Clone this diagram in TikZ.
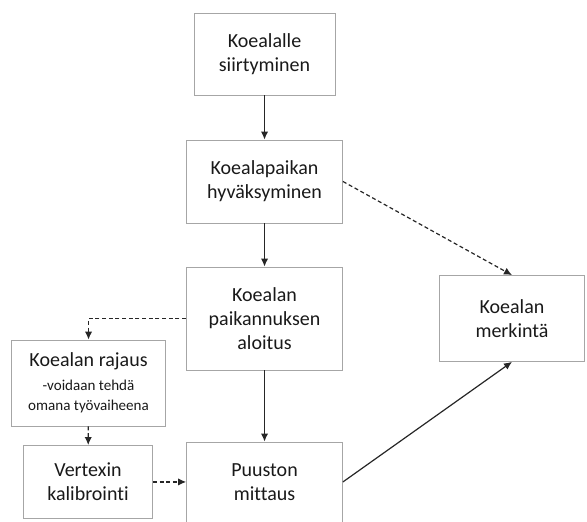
\documentclass[tikz,border=0pt]{standalone}
\usepackage{fontspec}
\setmainfont{Carlito}[Ligatures=NoCommon]
\usetikzlibrary{positioning,arrows.meta}

\newcommand{\notesize}{\fontsize{11.3}{15}\selectfont}

\tikzset{
	box/.style={draw=black!35, line width=0.6pt, align=center, inner sep=2pt,
		font=\fontsize{15}{18}\selectfont, text=black!90},
	solidarrow/.style={-{Latex[length=6pt,width=5.5pt]}, line width=0.9pt, black!85},
	dasharrow/.style={-{Latex[length=6pt,width=5.5pt]}, line width=0.9pt, black!85, dash pattern=on 3pt off 2pt}
}

\begin{document}
\begin{tikzpicture}[on grid]
	\useasboundingbox (0,0) rectangle (440.25pt,-391.5pt);
	\node[box, minimum width=105.75pt, minimum height=61.5pt] (siirt) at (198.4pt,-40.5pt) {Koealalle\\siirtyminen};
	\node[box, minimum width=117pt, minimum height=62.25pt] (hyvak) [below=95.6pt of siirt] {Koealapaikan\\hyväksyminen};
	\node[box, minimum width=117pt, minimum height=77.25pt] (paikan) [below=102.75pt of hyvak] {Koealan\\paikannuksen\\aloitus};
	\node[box, minimum width=117pt, minimum height=60pt] (puusto) [below=122.6pt of paikan] {Puuston\\mittaus};
	\node[box, minimum width=108.75pt, minimum height=64.5pt] (merk) [right=185.6pt of paikan] {Koealan\\merkintä};
	\node[box, minimum width=115.5pt, minimum height=64.5pt] (rajaus) [below left=48.4pt and 132pt of paikan]
		{Koealan rajaus\\{\notesize -voidaan tehdä}\\[-3pt]{\notesize omana työvaiheena}};
	\node[box, minimum width=96.75pt, minimum height=54.75pt] (vertex) [left=132.4pt of puusto] {Vertexin\\kalibrointi};

	\draw[solidarrow] (siirt) -- (hyvak);
	\draw[solidarrow] (hyvak) -- (paikan);
	\draw[solidarrow] (paikan) -- (puusto);
	\draw[solidarrow] (puusto.east) -- (merk.south);
	\draw[dasharrow] (hyvak.east) -- (merk.north);
	\draw[dasharrow] (paikan.west) -| (rajaus.north);
	\draw[dasharrow] (rajaus) -- (vertex);
	\draw[dasharrow] (vertex) -- (puusto);
\end{tikzpicture}
\end{document}
